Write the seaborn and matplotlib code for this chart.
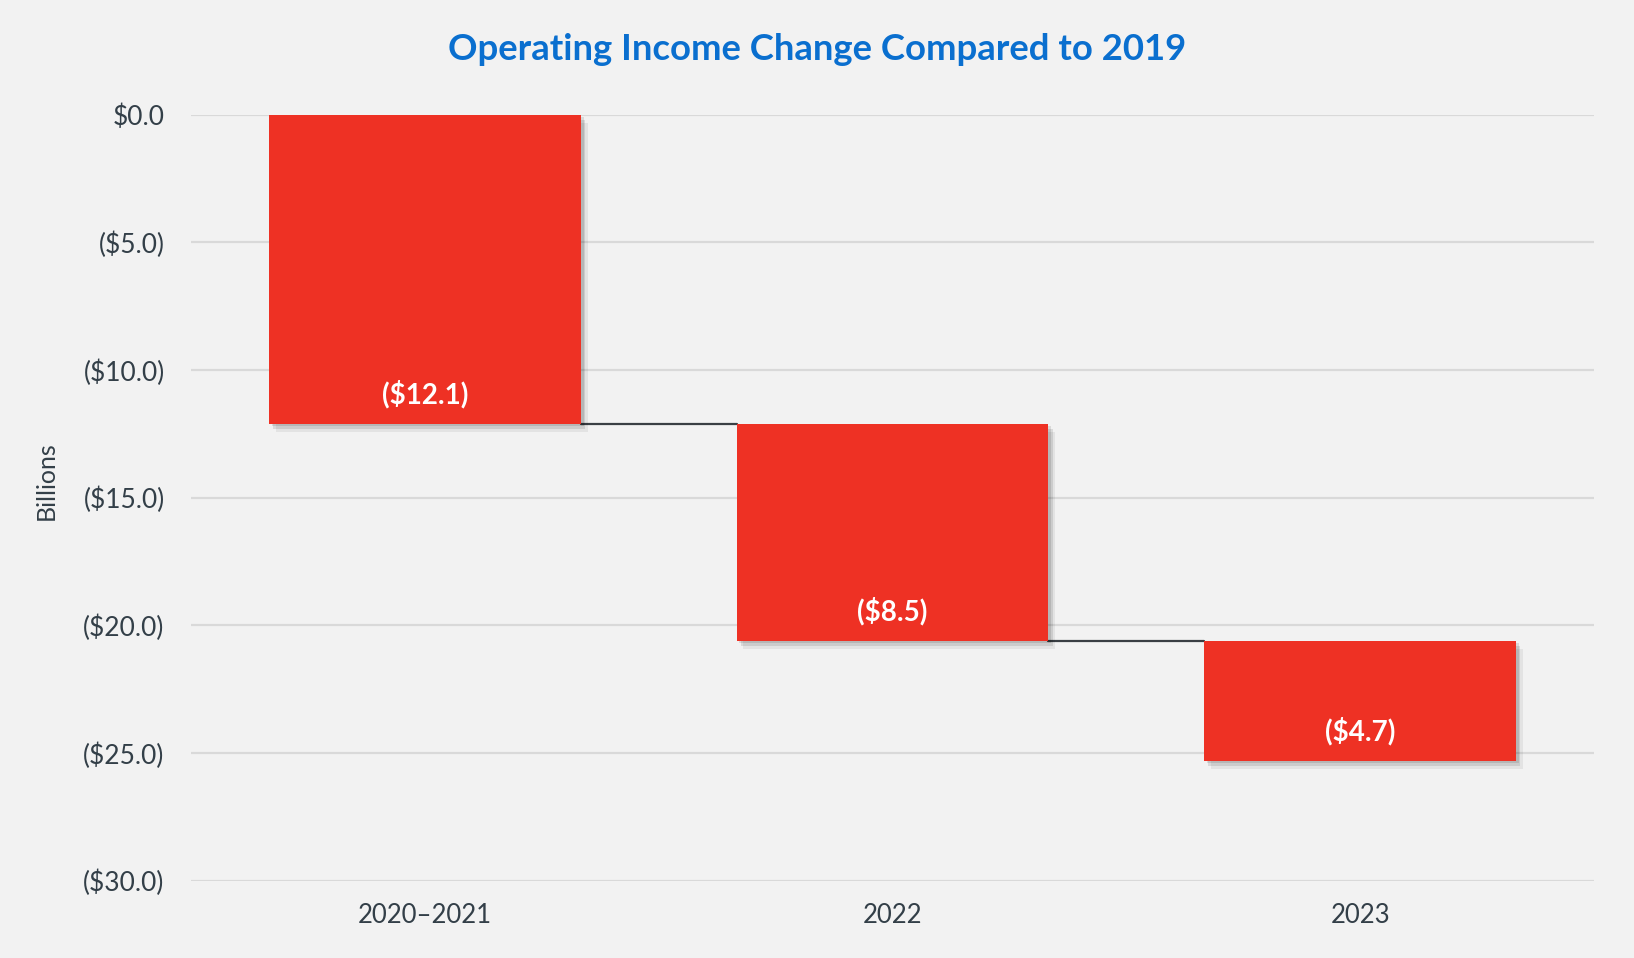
import numpy as np
import pandas as pd
import matplotlib
matplotlib.use("Agg")
import matplotlib.pyplot as plt
import matplotlib.patheffects as pe
import seaborn as sns

periods = ["2020\u20132021", "2022", "2023"]
changes = [-12.1, -8.5, -4.7]
ytick_vals = [0, -5, -10, -15, -20, -25, -30]
ytick_labels = ["$0.0", "($5.0)", "($10.0)", "($15.0)", "($20.0)", "($25.0)", "($30.0)"]

bg = "#f2f2f2"
red = "#ee3124"
txt = "#333f48"

sns.set_theme(style="white")
plt.rcParams["font.family"] = ["Lato", "DejaVu Sans"]

starts = np.concatenate([[0], np.cumsum(changes)[:-1]])
df = pd.DataFrame({"period": periods, "change": changes, "start": starts})

fig = plt.figure(figsize=(16.34, 9.58), dpi=100, facecolor=bg)
ax = fig.add_axes([0.1169, 0.0808, 0.8586, 0.7996])
ax.set_facecolor(bg)

bw = 0.667
sns.barplot(data=df, x="period", y="change", bottom=df["start"], color=red,
            width=bw, saturation=1, errorbar=None, linewidth=0, ax=ax, zorder=3)

# soft drop shadow
for p in ax.patches:
    p.set_path_effects([pe.SimplePatchShadow(offset=(2, -2), shadow_rgbFace="black", alpha=0.10),
                        pe.SimplePatchShadow(offset=(3, -4), shadow_rgbFace="black", alpha=0.10),
                        pe.SimplePatchShadow(offset=(5, -6), shadow_rgbFace="black", alpha=0.06),
                        pe.Normal()])

# connectors
ends = np.cumsum(changes)
for i in range(len(changes) - 1):
    ax.plot([i + bw / 2, i + 1 - bw / 2], [ends[i], ends[i]], color="#3a3f44", lw=1.6, zorder=2)

# value labels
for i, v in enumerate(changes):
    ax.annotate(f"(${abs(v):.1f})", (i, ends[i]), xytext=(0, 21), textcoords="offset points",
                ha="center", va="center", color="white", fontsize=20, fontweight="bold", zorder=4)

ax.set_ylim(-30, 0)
ax.set_xlim(-0.5, 2.5)
ax.set_yticks(ytick_vals)
ax.set_yticklabels(ytick_labels)
ax.yaxis.grid(True, color="#d9d9d9", lw=1.6, zorder=0)
ax.set_axisbelow(True)
for s in ax.spines.values():
    s.set_visible(False)
ax.tick_params(axis="y", length=0, pad=19, labelsize=19, labelcolor=txt)
ax.tick_params(axis="x", length=0, pad=16, labelsize=18.5, labelcolor=txt)
ax.set_xlabel("")
ax.set_ylabel("")
fig.text(46 / 1634, 1 - 481 / 958, "Billions", rotation=90, ha="center", va="center",
         fontsize=18, color=txt)

fig.text(0.5, 0.948, "Operating Income Change Compared to 2019", ha="center", va="center",
         fontsize=26.3, fontweight="bold", color="#0a6fcf")

fig.savefig("out.png", dpi=100, facecolor=bg)
